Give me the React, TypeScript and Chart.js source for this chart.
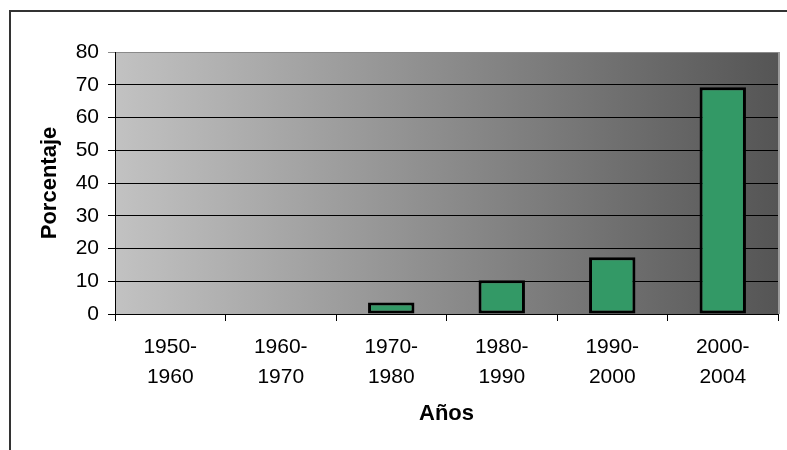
import React, { useEffect, useRef } from "react";
import { Chart, registerables } from "chart.js";

Chart.register(...registerables);

const categories: string[][] = [
  ["1950-", "1960"],
  ["1960-", "1970"],
  ["1970-", "1980"],
  ["1980-", "1990"],
  ["1990-", "2000"],
  ["2000-", "2004"],
];
const porcentaje: (number | null)[] = [0, 0, 3.5, 10.3, 17.3, 69.2];
const yTicks = { min: 0, max: 80, step: 10 };
const yTitle = "Porcentaje";
const xTitle = "Años";

const FONT = "'Liberation Sans', Arial, sans-serif";

const backgroundPlugin = {
  id: "bgGradient",
  beforeDraw(chart: any) {
    const { ctx, chartArea } = chart;
    if (!chartArea) return;
    ctx.save();
    ctx.strokeStyle = "#333333";
    ctx.lineWidth = 2;
    ctx.beginPath();
    ctx.moveTo(10, 450);
    ctx.lineTo(10, 11);
    ctx.lineTo(787, 11);
    ctx.stroke();
    const g = ctx.createLinearGradient(chartArea.left, 0, chartArea.right, 0);
    g.addColorStop(0, "#c2c2c2");
    g.addColorStop(1, "#555555");
    ctx.fillStyle = g;
    ctx.fillRect(
      chartArea.left,
      chartArea.top,
      chartArea.right - chartArea.left,
      chartArea.bottom - chartArea.top
    );
    ctx.fillStyle = "#9a9a9a";
    ctx.fillRect(chartArea.right, chartArea.top, 2, chartArea.bottom - chartArea.top);
    ctx.restore();
  },
};

export default function App() {
  const ref = useRef<HTMLCanvasElement | null>(null);

  useEffect(() => {
    document.body.style.margin = "0";
    if (!ref.current) return;
    const chart = new Chart(ref.current, {
      type: "bar",
      data: {
        labels: categories,
        datasets: [
          {
            label: yTitle,
            data: porcentaje,
            backgroundColor: "#339966",
            borderColor: "#000000",
            borderWidth: 3,
            borderSkipped: false,
            categoryPercentage: 1,
            barPercentage: 0.42,
          },
        ],
      },
      options: {
        responsive: false,
        animation: false,
        devicePixelRatio: 1,
        layout: { padding: { left: 0, top: 52, right: 9, bottom: 0 } },
        plugins: {
          legend: { display: false },
          tooltip: { enabled: false },
        },
        scales: {
          x: {
            afterFit(scale: any) {
              scale.height = 136;
            },
            grid: {
              display: true,
              drawOnChartArea: false,
              drawTicks: true,
              tickLength: 7,
              color: "#000000",
              offset: true,
            },
            border: { display: true, color: "#000000", width: 1 },
            ticks: {
              color: "#000000",
              padding: 12,
              maxRotation: 0,
              autoSkip: false,
              font: { family: FONT, size: 21, lineHeight: 1.4 },
            },
            title: {
              display: true,
              text: xTitle,
              color: "#000000",
              padding: { top: 0, bottom: 23 },
              font: { family: FONT, size: 22, weight: "bold" },
            },
          },
          y: {
            min: yTicks.min,
            max: yTicks.max,
            afterFit(scale: any) {
              scale.width = 115;
            },
            grid: {
              color: (c: any) => (c.tick && c.tick.value === yTicks.max ? "#8a8a8a" : "#000000"),
              lineWidth: 1,
              tickLength: 7,
              drawTicks: true,
            },
            border: { display: true, color: "#000000", width: 1 },
            ticks: {
              stepSize: yTicks.step,
              color: "#000000",
              padding: 9,
              font: { family: FONT, size: 21 },
            },
            title: {
              display: true,
              text: yTitle,
              color: "#000000",
              padding: { top: 37, bottom: 0 },
              font: { family: FONT, size: 22, weight: "bold" },
            },
          },
        },
      },
      plugins: [backgroundPlugin],
    });
    return () => chart.destroy();
  }, []);

  return (
    <div style={{ width: 787, height: 450 }}>
      <canvas ref={ref} width={787} height={450} style={{ display: "block" }} />
    </div>
  );
}
